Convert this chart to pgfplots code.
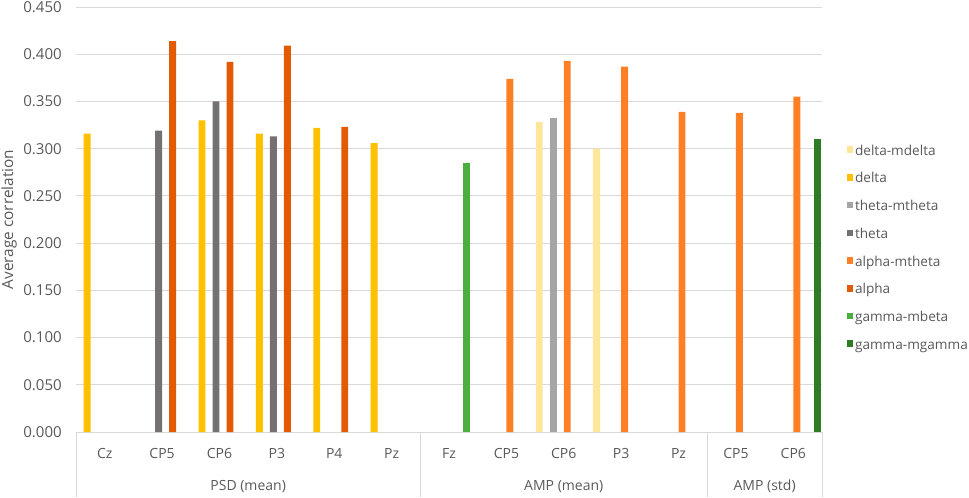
\documentclass[border=0pt]{standalone}
\usepackage{pgfplots}
\pgfplotsset{compat=1.18}
\usepackage{fontspec}
\setmainfont{Open Sans}
\definecolor{txt}{HTML}{595959}
\definecolor{gridc}{HTML}{D9D9D9}
\definecolor{cdm}{HTML}{FFE699}
\definecolor{cd}{HTML}{FFC000}
\definecolor{ctm}{HTML}{A5A5A5}
\definecolor{ct}{HTML}{767171}
\definecolor{cam}{HTML}{FF8024}
\definecolor{ca}{HTML}{E25B02}
\definecolor{cgb}{HTML}{4AAF3C}
\definecolor{cgg}{HTML}{2E7D26}
\begin{document}
\begin{tikzpicture}
\fontsize{10.5pt}{12pt}\selectfont
\path[use as bounding box] (0,0) rectangle (726.75pt,372.75pt);
\begin{axis}[
  at={(57pt,48.75pt)}, anchor=south west,
  scale only axis, width=559.5pt, height=318.75pt,
  xmin=-0.5, xmax=12.5, ymin=0, ymax=0.45,
  ytick={0,0.05,...,0.45},
  yticklabel style={/pgf/number format/fixed, /pgf/number format/fixed zerofill, /pgf/number format/precision=3, /pgf/number format/assume math mode=true, anchor=east, inner sep=0pt, xshift=-10.5pt, text=txt, font=\fontsize{11.3pt}{13pt}\selectfont},
  xtick={0,...,12},
  xticklabels={Cz,CP5,CP6,P3,P4,Pz,Fz,CP5,CP6,P3,Pz,CP5,CP6},
  xticklabel style={anchor=base, inner sep=0pt, yshift=-19.5pt, text=txt, font=\fontsize{10.5pt}{12pt}\selectfont},
  major tick length=0pt,
  axis x line=bottom, axis y line=left,
  axis line style={-},
  x axis line style={gridc, line width=0.75pt},
  y axis line style={draw=none},
  ymajorgrids, grid style={gridc, line width=0.75pt},
  ylabel={Average correlation},
  ylabel style={at={(axis description cs:-0.0895,0.5)}, anchor=center, rotate=0, text=txt, font=\fontsize{11.5pt}{13pt}\selectfont},
  clip=false,
  ybar, bar width=0.12,
  every axis plot/.append style={draw=none},
  legend style={at={(axis description cs:1.0275,0.682)}, anchor=north west, draw=none, fill=none, text=txt, font=\fontsize{10.2pt}{12pt}\selectfont, row sep=11.3pt, nodes={inner xsep=1.2pt, inner ysep=0pt, text height=7.5pt, text depth=2pt}},
  legend cell align=left,
  legend image code/.code={\fill[#1] (0pt,-1.2pt) rectangle (5pt,3.8pt);},
]
\addplot[fill=cdm, bar shift=-0.427] coordinates {(8,0.328) (9,0.300)};
\addplot[fill=cd, bar shift=-0.305] coordinates {(0,0.316) (2,0.330) (3,0.316) (4,0.322) (5,0.306)};
\addplot[fill=ctm, bar shift=-0.183] coordinates {(8,0.333)};
\addplot[fill=ct, bar shift=-0.061] coordinates {(1,0.319) (2,0.350) (3,0.313)};
\addplot[fill=cam, bar shift=0.061] coordinates {(7,0.374) (8,0.393) (9,0.387) (10,0.339) (11,0.338) (12,0.355)};
\addplot[fill=ca, bar shift=0.183] coordinates {(1,0.414) (2,0.392) (3,0.409) (4,0.323)};
\addplot[fill=cgb, bar shift=0.305] coordinates {(6,0.285)};
\addplot[fill=cgg, bar shift=0.427] coordinates {(12,0.310)};
\legend{delta-mdelta,delta,theta-mtheta,theta,alpha-mtheta,alpha,gamma-mbeta,gamma-mgamma}
\draw[gridc, line width=0.75pt] (axis cs:-0.5,0) -- ([yshift=-48.75pt]axis cs:-0.5,0);
\draw[gridc, line width=0.75pt] (axis cs:5.5,0) -- ([yshift=-48.75pt]axis cs:5.5,0);
\draw[gridc, line width=0.75pt] (axis cs:10.5,0) -- ([yshift=-48.75pt]axis cs:10.5,0);
\draw[gridc, line width=0.75pt] (axis cs:12.5,0) -- ([yshift=-48.75pt]axis cs:12.5,0);
\node[anchor=base, text=txt, inner sep=0pt] at ([yshift=-43.5pt]axis cs:2.5,0) {PSD (mean)};
\node[anchor=base, text=txt, inner sep=0pt] at ([yshift=-43.5pt]axis cs:8,0) {AMP (mean)};
\node[anchor=base, text=txt, inner sep=0pt] at ([yshift=-43.5pt]axis cs:11.5,0) {AMP (std)};
\end{axis}
\end{tikzpicture}
\end{document}
